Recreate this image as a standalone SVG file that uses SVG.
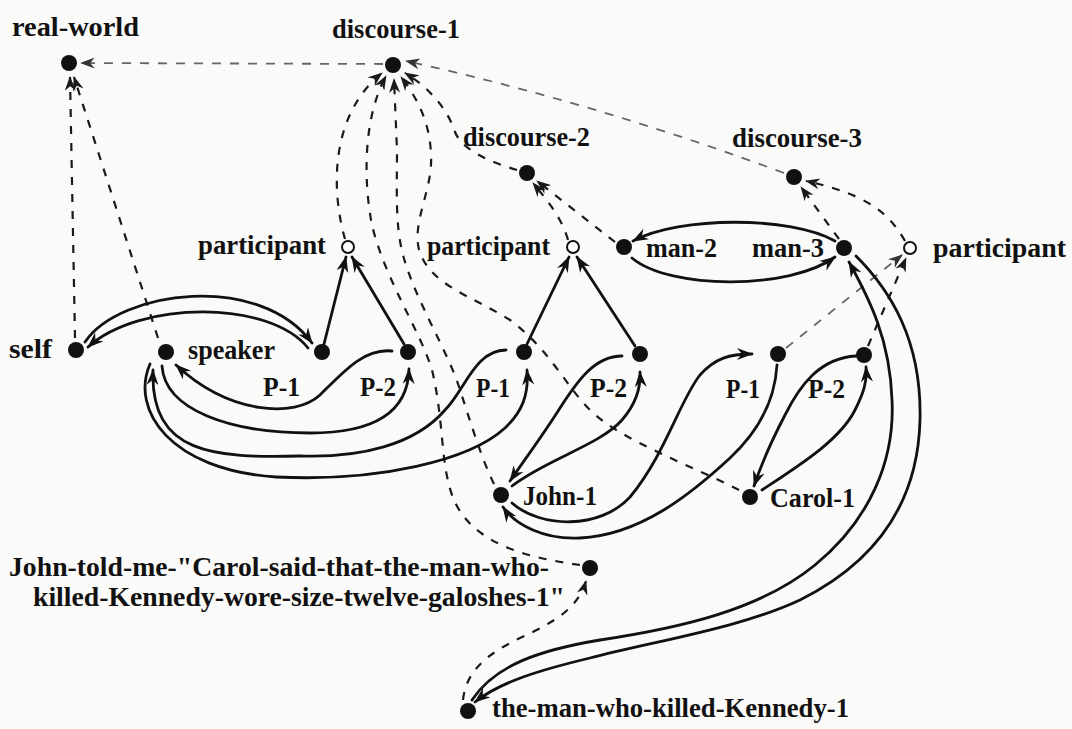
<svg xmlns="http://www.w3.org/2000/svg" width="1072" height="729" viewBox="0 0 1072 729">
<style>
text{font-family:"Liberation Serif","Times New Roman",serif;font-weight:bold;font-size:26.5px;fill:#111}
.s{fill:none;stroke:#111;stroke-width:2.8;stroke-linecap:round}
.d{fill:none;stroke:#1a1a1a;stroke-width:2.2;stroke-dasharray:8 9}
.g{fill:none;stroke:#666;stroke-width:1.8;stroke-dasharray:9 9}
.dot{fill:#111}
.open{fill:#fff;stroke:#111;stroke-width:2}
</style>
<defs>
<marker id="a" viewBox="0 0 16 12" refX="15" refY="6" markerWidth="17" markerHeight="12" markerUnits="userSpaceOnUse" orient="auto"><path d="M0,0 L16,6 L0,12 L5,6 z" fill="#111"/></marker>
<marker id="ad" viewBox="0 0 16 12" refX="15" refY="6" markerWidth="15" markerHeight="11" markerUnits="userSpaceOnUse" orient="auto"><path d="M0,0 L16,6 L0,12 L5,6 z" fill="#1a1a1a"/></marker>
<marker id="ag" viewBox="0 0 16 12" refX="15" refY="6" markerWidth="15" markerHeight="11" markerUnits="userSpaceOnUse" orient="auto"><path d="M0,0 L16,6 L0,12 L5,6 z" fill="#333"/></marker>
</defs>
<rect width="1072" height="729" fill="#fafaf8"/>
<g id="connectors">
<path class="g" d="M383,64 L81,63" marker-end="url(#ag)"/>
<path class="d" d="M75,338 L70,77" marker-end="url(#ad)"/>
<path class="d" d="M158,338 L74,77" marker-end="url(#ad)"/>
<path class="d" d="M345,239 C331,190 330,115 382,73" marker-end="url(#ad)"/>
<path class="d" d="M580,565 C530,558 470,545 452,495 C440,460 444,420 432,370 C420,330 385,280 372,225 C364,185 362,120 386,76" marker-end="url(#ad)"/>
<path class="d" d="M494,484 C480,455 470,420 460,390 C450,355 415,300 403,255 C395,225 397,190 397,150 L394,79" marker-end="url(#ad)"/>
<path class="d" d="M739,490 C690,465 620,440 590,410 C565,385 550,350 510,320 C470,295 430,285 419,250 C412,220 433,190 431,155 C430,120 415,95 401,77" marker-end="url(#ad)"/>
<path class="d" d="M517,170 C490,162 462,150 455,132 C448,110 430,88 405,73" marker-end="url(#ad)"/>
<path class="g" d="M784,173 Q596,103 406,61" marker-end="url(#ag)"/>
<path class="d" d="M568,240 C562,218 547,200 533,183" marker-end="url(#ad)"/>
<path class="d" d="M615,242 L537,181" marker-end="url(#ad)"/>
<path class="d" d="M839,239 L801,187" marker-end="url(#ad)"/>
<path class="d" d="M905,241 C890,215 870,195 806,181" marker-end="url(#ad)"/>
<path class="g" d="M786,348 L902,255" marker-end="url(#ag)"/>
<path class="d" d="M868,346 L906,258" marker-end="url(#ad)"/>
<path class="d" d="M463,700 C466,672 485,655 520,638 C555,622 578,608 586,581" marker-end="url(#ad)"/>
<path class="s" d="M324,344 L346,257" marker-end="url(#a)"/>
<path class="s" d="M404,344 L352,257" marker-end="url(#a)"/>
<path class="s" d="M527,344 L569,257" marker-end="url(#a)"/>
<path class="s" d="M635,346 L577,257" marker-end="url(#a)"/>
<path class="s" d="M835,241 C790,216 680,216 633,241" marker-end="url(#a)"/>
<path class="s" d="M632,258 C670,290 790,290 835,257" marker-end="url(#a)"/>
<path class="s" d="M85,342 C120,290 260,272 312,343" marker-end="url(#a)"/>
<path class="s" d="M308,348 C270,300 140,300 88,347" marker-end="url(#a)"/>
<path class="s" d="M392,351 C365,348 345,370 320,395 C295,418 230,415 176,365" marker-end="url(#a)"/>
<path class="s" d="M162,366 C165,410 230,433 310,433 C370,433 408,415 409,369" marker-end="url(#a)"/>
<path class="s" d="M506,350 C475,350 465,390 445,410 C415,445 360,458 300,456 C215,458 150,455 153,370" marker-end="url(#a)"/>
<path class="s" d="M150,364 C130,410 170,470 276,477 C380,482 470,460 505,428 C522,412 529,395 527,370" marker-end="url(#a)"/>
<path class="s" d="M622,356 C595,356 578,380 560,408 C545,432 528,455 510,481" marker-end="url(#a)"/>
<path class="s" d="M512,486 C545,460 600,445 622,420 C635,405 641,390 640,372" marker-end="url(#a)"/>
<path class="s" d="M512,503 C540,528 600,530 630,497 C665,455 680,400 700,375 C715,358 730,354 752,354" marker-end="url(#a)"/>
<path class="s" d="M777,365 C775,400 760,430 730,458 C690,495 640,535 580,538 C545,540 515,525 503,507" marker-end="url(#a)"/>
<path class="s" d="M856,356 C820,358 800,385 785,415 C772,440 762,462 754,486" marker-end="url(#a)"/>
<path class="s" d="M762,490 C800,465 840,440 855,410 C864,392 867,382 866,367" marker-end="url(#a)"/>
<path class="s" d="M472,700 C495,665 540,650 600,640 C680,628 760,610 815,565 C870,520 895,460 892,400 C890,340 870,300 849,262" marker-end="url(#a)"/>
<path class="s" d="M856,256 C890,290 922,340 920,420 C918,500 880,560 800,600 C740,628 660,640 590,658 C540,670 500,682 475,702" marker-end="url(#a)"/>
</g>
<g id="real-world"><circle class="dot" cx="69" cy="63" r="8"/><text x="12" y="36" textLength="127" lengthAdjust="spacingAndGlyphs">real-world</text></g>
<g id="discourse-1"><circle class="dot" cx="393" cy="65" r="8"/><text x="332" y="38" textLength="128" lengthAdjust="spacingAndGlyphs">discourse-1</text></g>
<g id="discourse-2"><circle class="dot" cx="527" cy="173" r="8"/><text x="463" y="146" textLength="127" lengthAdjust="spacingAndGlyphs">discourse-2</text></g>
<g id="discourse-3"><circle class="dot" cx="794" cy="177" r="8"/><text x="732" y="147" textLength="130" lengthAdjust="spacingAndGlyphs">discourse-3</text></g>
<g id="participant-1"><circle class="open" cx="348" cy="247" r="6"/><text x="198" y="254" textLength="128" lengthAdjust="spacingAndGlyphs">participant</text></g>
<g id="participant-2"><circle class="open" cx="573" cy="247" r="6"/><text x="427" y="255" textLength="123" lengthAdjust="spacingAndGlyphs">participant</text></g>
<g id="man-2"><circle class="dot" cx="624" cy="247" r="8"/><text x="646" y="257" textLength="71" lengthAdjust="spacingAndGlyphs">man-2</text></g>
<g id="man-3"><circle class="dot" cx="844" cy="248" r="8"/><text x="752" y="257" textLength="72" lengthAdjust="spacingAndGlyphs">man-3</text></g>
<g id="participant-3"><circle class="open" cx="910" cy="248" r="6"/><text x="933" y="257" textLength="133" lengthAdjust="spacingAndGlyphs">participant</text></g>
<g id="self"><circle class="dot" cx="76" cy="350" r="8"/><text x="9" y="358" textLength="43" lengthAdjust="spacingAndGlyphs">self</text></g>
<g id="speaker"><circle class="dot" cx="166" cy="352" r="8"/><text x="188" y="359" textLength="87" lengthAdjust="spacingAndGlyphs">speaker</text></g>
<g id="p1-a"><circle class="dot" cx="322" cy="352" r="8"/><text x="263" y="396" textLength="37" lengthAdjust="spacingAndGlyphs">P-1</text></g>
<g id="p2-a"><circle class="dot" cx="408" cy="352" r="8"/><text x="360" y="396" textLength="36" lengthAdjust="spacingAndGlyphs">P-2</text></g>
<g id="p1-b"><circle class="dot" cx="524" cy="352" r="8"/><text x="476" y="397" textLength="34" lengthAdjust="spacingAndGlyphs">P-1</text></g>
<g id="p2-b"><circle class="dot" cx="640" cy="354" r="8"/><text x="590" y="397" textLength="37" lengthAdjust="spacingAndGlyphs">P-2</text></g>
<g id="p1-c"><circle class="dot" cx="778" cy="354" r="8"/><text x="726" y="398" textLength="34" lengthAdjust="spacingAndGlyphs">P-1</text></g>
<g id="p2-c"><circle class="dot" cx="864" cy="355" r="8"/><text x="808" y="398" textLength="37" lengthAdjust="spacingAndGlyphs">P-2</text></g>
<g id="john-1"><circle class="dot" cx="501" cy="495" r="8"/><text x="523" y="505" textLength="74" lengthAdjust="spacingAndGlyphs">John-1</text></g>
<g id="carol-1"><circle class="dot" cx="750" cy="497" r="8"/><text x="770" y="507" textLength="85" lengthAdjust="spacingAndGlyphs">Carol-1</text></g>
<g id="john-told-me"><circle class="dot" cx="590" cy="568" r="8"/><text x="9" y="576" textLength="540" lengthAdjust="spacingAndGlyphs">John-told-me-"Carol-said-that-the-man-who-</text><text x="33" y="606" textLength="532" lengthAdjust="spacingAndGlyphs">killed-Kennedy-wore-size-twelve-galoshes-1"</text></g>
<g id="the-man-who-killed-kennedy-1"><circle class="dot" cx="468" cy="711" r="8"/><text x="492" y="717" textLength="357" lengthAdjust="spacingAndGlyphs">the-man-who-killed-Kennedy-1</text></g>
</svg>
